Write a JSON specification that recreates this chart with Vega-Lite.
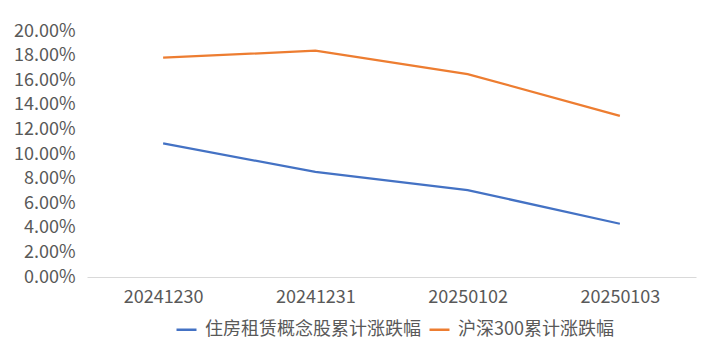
{
  "$schema": "https://vega.github.io/schema/vega-lite/v6.json",
  "width": 609,
  "height": 246,
  "autosize": {"type": "none"},
  "padding": {"left": 87, "top": 31, "right": 14, "bottom": 76},
  "background": "white",
  "config": {
    "view": {"stroke": null},
    "font": "Noto Sans CJK SC"
  },
  "data": {
    "values": [
      {"date": "20241230", "series": "住房租赁概念股累计涨跌幅", "value": 0.1087},
      {"date": "20241231", "series": "住房租赁概念股累计涨跌幅", "value": 0.0854},
      {"date": "20250102", "series": "住房租赁概念股累计涨跌幅", "value": 0.0707},
      {"date": "20250103", "series": "住房租赁概念股累计涨跌幅", "value": 0.0433},
      {"date": "20241230", "series": "沪深300累计涨跌幅", "value": 0.1783},
      {"date": "20241231", "series": "沪深300累计涨跌幅", "value": 0.1840},
      {"date": "20250102", "series": "沪深300累计涨跌幅", "value": 0.1650},
      {"date": "20250103", "series": "沪深300累计涨跌幅", "value": 0.1310}
    ]
  },
  "mark": {"type": "line", "strokeWidth": 2.25},
  "encoding": {
    "x": {
      "field": "date",
      "type": "ordinal",
      "sort": null,
      "scale": {"type": "point", "padding": 0.5},
      "axis": {
        "title": null,
        "labelAngle": 0,
        "labelFontSize": 18,
        "labelColor": "#595959",
        "labelPadding": 11,
        "ticks": false,
        "domainColor": "#d9d9d9",
        "domainWidth": 1,
        "grid": false
      }
    },
    "y": {
      "field": "value",
      "type": "quantitative",
      "scale": {"domain": [0, 0.2], "nice": false},
      "axis": {
        "title": null,
        "format": ".2%",
        "values": [0, 0.02, 0.04, 0.06, 0.08, 0.1, 0.12, 0.14, 0.16, 0.18, 0.2],
        "labelFontSize": 18,
        "labelColor": "#595959",
        "labelPadding": 12,
        "ticks": false,
        "domain": false,
        "grid": false
      }
    },
    "color": {
      "field": "series",
      "type": "nominal",
      "scale": {
        "domain": ["住房租赁概念股累计涨跌幅", "沪深300累计涨跌幅"],
        "range": ["#4472C4", "#ED7D31"]
      },
      "legend": {
        "title": null,
        "orient": "none",
        "legendX": 88,
        "legendY": 287,
        "direction": "horizontal",
        "symbolType": "stroke",
        "symbolSize": 400,
        "symbolStrokeWidth": 2.5,
        "labelFontSize": 18,
        "labelColor": "#595959",
        "labelLimit": 0,
        "labelOffset": 7,
        "columnPadding": 3
      }
    }
  }
}
